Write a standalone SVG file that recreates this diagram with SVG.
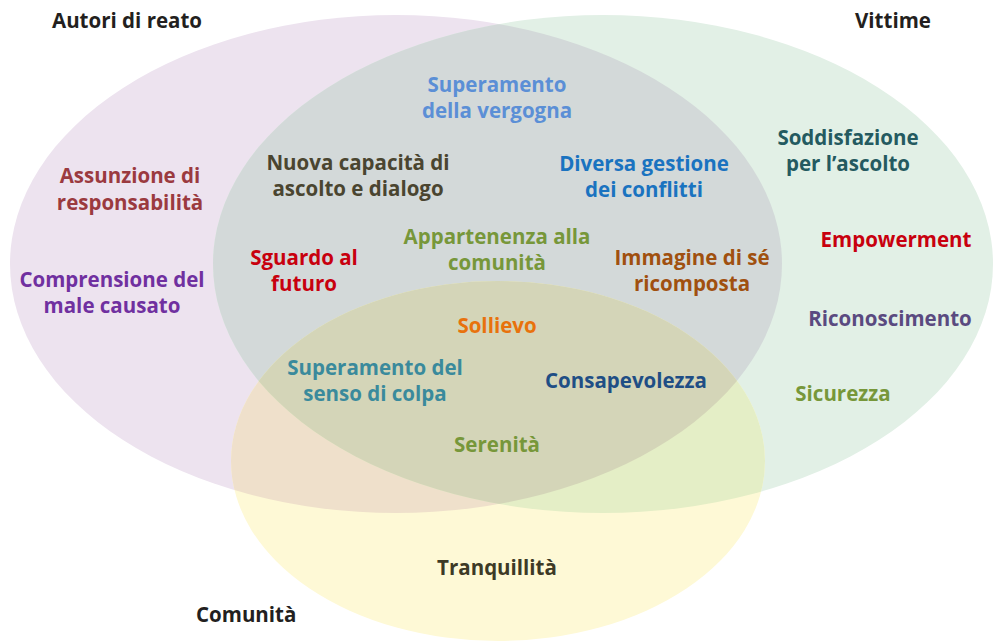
<svg xmlns="http://www.w3.org/2000/svg" width="994" height="642" viewBox="0 0 994 642">
<defs>
<clipPath id="cP"><ellipse cx="396" cy="264" rx="386" ry="249"/></clipPath>
<clipPath id="cG"><ellipse cx="603" cy="264" rx="390" ry="249"/></clipPath>
<style>
text{font-family:"Open Sans","Liberation Sans",sans-serif;font-weight:700;font-size:20.5px;text-anchor:middle}
.h{fill:#231f20;text-anchor:start}
</style>
</defs>
<rect width="994" height="642" fill="#ffffff"/>
<g id="sets">
<ellipse id="set-autori" cx="396" cy="264" rx="386" ry="249" fill="#ede3ef"/>
<ellipse id="set-vittime" cx="603" cy="264" rx="390" ry="249" fill="#e2f0e6"/>
<ellipse id="set-comunita" cx="498" cy="461" rx="267" ry="180" fill="#fef9d6"/>
<ellipse cx="603" cy="264" rx="390" ry="249" fill="#d3d9d9" clip-path="url(#cP)"/>
<ellipse cx="498" cy="461" rx="267" ry="180" fill="#efe0cb" clip-path="url(#cP)"/>
<ellipse cx="498" cy="461" rx="267" ry="180" fill="#e4eec6" clip-path="url(#cG)"/>
<g clip-path="url(#cG)"><ellipse cx="498" cy="461" rx="267" ry="180" fill="#d4d5b8" clip-path="url(#cP)"/></g>
</g>
<g id="titles">
<text class="h" x="52" y="28">Autori di reato</text>
<text class="h" x="855" y="28">Vittime</text>
<text class="h" x="196" y="622">Comunità</text>
</g>
<g id="labels">
<g id="n-vergogna" fill="#5b8fd6"><text x="497" y="92">Superamento</text><text x="497" y="118">della vergogna</text></g>
<g id="n-nuova" fill="#4a4530"><text x="358" y="170">Nuova capacità di</text><text x="358" y="196">ascolto e dialogo</text></g>
<g id="n-diversa" fill="#1a73c0"><text x="644" y="171">Diversa gestione</text><text x="644" y="197">dei conflitti</text></g>
<g id="n-soddisfazione" fill="#245a60"><text x="848" y="145">Soddisfazione</text><text x="848" y="171">per l’ascolto</text></g>
<g id="n-assunzione" fill="#9b3a3f"><text x="130" y="183">Assunzione di</text><text x="130" y="210">responsabilità</text></g>
<g id="n-sguardo" fill="#c8000e"><text x="304" y="265">Sguardo al</text><text x="304" y="291">futuro</text></g>
<g id="n-appartenenza" fill="#77973a"><text x="497" y="244">Appartenenza alla</text><text x="497" y="270">comunità</text></g>
<g id="n-immagine" fill="#a0500f"><text x="692" y="265">Immagine di sé</text><text x="692" y="291">ricomposta</text></g>
<g id="n-comprensione" fill="#7030a0"><text x="112" y="287">Comprensione del</text><text x="112" y="313">male causato</text></g>
<g id="n-empowerment" fill="#c8000e"><text x="896" y="247">Empowerment</text></g>
<g id="n-riconoscimento" fill="#5a4a80"><text x="890" y="326">Riconoscimento</text></g>
<g id="n-sicurezza" fill="#77973a"><text x="843" y="401">Sicurezza</text></g>
<g id="n-sollievo" fill="#e8720c"><text x="497" y="333">Sollievo</text></g>
<g id="n-colpa" fill="#3a8a9c"><text x="375" y="375">Superamento del</text><text x="375" y="401">senso di colpa</text></g>
<g id="n-consapevolezza" fill="#1f4e85"><text x="626" y="388">Consapevolezza</text></g>
<g id="n-serenita" fill="#77973a"><text x="497" y="452">Serenità</text></g>
<g id="n-tranquillita" fill="#3d3a26"><text x="497" y="575">Tranquillità</text></g>
</g>
<g id="connectors"/>
</svg>
